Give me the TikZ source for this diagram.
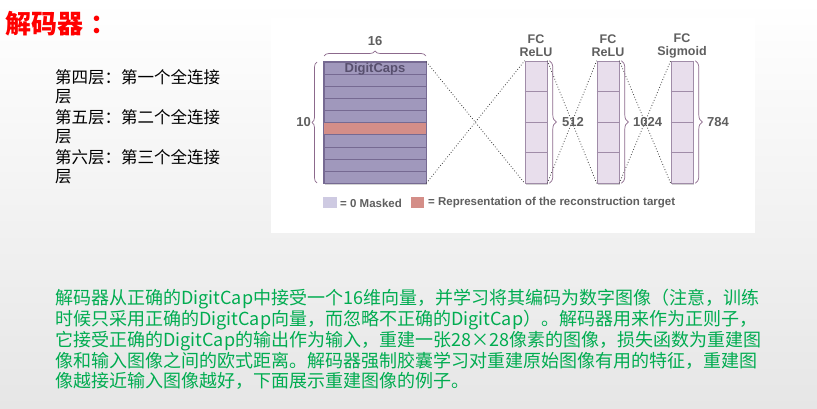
\documentclass[tikz,border=0pt]{standalone}
\usepackage{fontspec}
\setmainfont{Liberation Sans}
\newfontfamily\cjk{Noto Sans CJK SC}
\usetikzlibrary{calc,shadows,decorations.pathreplacing}
\XeTeXlinebreaklocale "zh"
\XeTeXlinebreakskip=0pt plus 3pt
\definecolor{capfill}{RGB}{160,152,188}
\definecolor{capline}{RGB}{118,106,146}
\definecolor{redrow}{RGB}{212,142,136}
\definecolor{fcfill}{RGB}{232,222,236}
\definecolor{fcline}{RGB}{160,140,168}
\definecolor{bracec}{RGB}{140,105,140}
\definecolor{lblgray}{RGB}{95,95,95}
\definecolor{maskfill}{RGB}{206,202,226}
\definecolor{slidegreen}{RGB}{0,172,80}
\definecolor{bgbottom}{RGB}{230,230,230}
\tikzset{
  capbox/.style={draw=capline,fill=capfill,line width=0.6pt,minimum width=102pt,minimum height=121pt,inner sep=0pt,
     drop shadow={shadow xshift=1pt,shadow yshift=-2.5pt,opacity=0.35}},
  fcbox/.style={draw=fcline,fill=fcfill,line width=0.6pt,minimum width=22pt,minimum height=122pt,inner sep=0pt,
     drop shadow={shadow xshift=1pt,shadow yshift=-2.5pt,opacity=0.35}},
  rowline/.style={draw=capline,line width=0.6pt},
  cellline/.style={draw=fcline,line width=0.6pt},
  conn/.style={draw=black!75,dotted,line width=0.8pt},
  bracestyle/.style={draw=bracec,line width=0.7pt,decorate},
  dimlbl/.style={font=\fontsize{13}{14}\selectfont\bfseries,text=lblgray,inner sep=1pt},
  fclbl/.style={font=\fontsize{12.5}{13}\selectfont\bfseries,text=lblgray,align=center,inner sep=0pt},
  legtext/.style={font=\fontsize{11.5}{12}\selectfont\bfseries,text=lblgray,anchor=west,inner sep=0pt},
  sidetext/.style={font=\cjk\fontsize{16.5}{20}\selectfont,text=black,anchor=west,inner sep=0pt},
  greentext/.style={font=\cjk\fontsize{18}{20}\selectfont,text=slidegreen,anchor=west,inner sep=0pt},
}
\begin{document}
\begin{tikzpicture}[x=1pt,y=-1pt]
\useasboundingbox (0,0) rectangle (817,409);
% slide background
\shade[top color=white,bottom color=bgbottom] (0,0) rectangle (817,409);
% white picture area
\fill[white] (271,18) rectangle (755,233);

% title
\node[font=\cjk\bfseries\fontsize{26}{28}\selectfont,text=red,anchor=west,inner sep=0pt] (title) at (5,24) {解码器\hspace{7pt}：};

% side text
\node[sidetext] (s1) at (55,77) {第四层：第一个全连接};
\node[sidetext] (s2) at (55,97) {层};
\node[sidetext] (s3) at (55,117) {第五层：第二个全连接};
\node[sidetext] (s4) at (55,137) {层};
\node[sidetext] (s5) at (55,157) {第六层：第三个全连接};
\node[sidetext] (s6) at (55,177) {层};

% DigitCaps block
\node[capbox] (dc) at (375,122.5) {};
\fill[redrow] ($(dc.north west)!0.5!(dc.south west)$) rectangle ($(dc.north east)!0.6!(dc.south east)$);
\foreach \i in {1,...,9}{
  \draw[rowline] ($(dc.north west)!\i/10!(dc.south west)$) -- ($(dc.north east)!\i/10!(dc.south east)$);
}
\draw[draw=capline,line width=0.6pt] (dc.north west) rectangle (dc.south east);
\node[font=\fontsize{13}{14}\selectfont\bfseries,text={rgb,255:red,88;green,80;blue,110},inner sep=0pt] (dclbl) at (375,69) {DigitCaps};

% braces of DigitCaps
\draw[bracestyle,decoration={brace,amplitude=5pt}] (317,183) -- (317,62);
\node[dimlbl,anchor=east] (ten) at (312,122) {10};
\draw[bracestyle,decoration={brace,amplitude=5pt}] (324,56) -- (426,56);
\node[dimlbl] (sixteen) at (375,41) {16};

% FC columns
\node[fcbox] (f1) at (536,122) {};
\node[fcbox] (f2) at (608,122) {};
\node[fcbox] (f3) at (682,122) {};
\foreach \n in {f1,f2,f3}{
  \foreach \i in {1,2,3}{
    \draw[cellline] ($(\n.north west)!\i/4!(\n.south west)$) -- ($(\n.north east)!\i/4!(\n.south east)$);
  }
}

% FC labels
\node[fclbl] (l1) at (536,46) {FC\\ReLU};
\node[fclbl] (l2) at (608,46) {FC\\ReLU};
\node[fclbl] (l3) at (682,46) {FC\\Sigmoid};

% dotted connections
\draw[conn] (dc.north east) -- (f1.south west);
\draw[conn] (dc.south east) -- (f1.north west);
\draw[conn] (f1.north east) -- (f2.south west);
\draw[conn] (f1.south east) -- (f2.north west);
\draw[conn] (f2.north east) -- (f3.south west);
\draw[conn] (f2.south east) -- (f3.north west);

% FC braces
\draw[bracestyle,decoration={brace,amplitude=7pt}] ($(f1.north east)+(2,0)$) -- ($(f1.south east)+(2,0)$);
\node[dimlbl,anchor=west] (n512) at (561,122) {512};
\draw[bracestyle,decoration={brace,amplitude=7pt}] ($(f2.north east)+(2,0)$) -- ($(f2.south east)+(2,0)$);
\node[dimlbl,anchor=west] (n1024) at (632,122) {1024};
\draw[bracestyle,decoration={brace,amplitude=7pt}] ($(f3.north east)+(2,0)$) -- ($(f3.south east)+(2,0)$);
\node[dimlbl,anchor=west] (n784) at (706,122) {784};

% legend
\fill[maskfill] (323,197) rectangle (337,208);
\node[legtext] (lg1) at (340,203) {= 0 Masked};
\fill[redrow] (411,197) rectangle (424,208);
\node[legtext] (lg2) at (428,203) {= Representation of the reconstruction target};

% green paragraph
\node[greentext] (g1) at (55,299) {\makebox[717pt][s]{解码器从正确的DigitCap中接受一个16维向量，并学习将其编码为数字图像（注意，训练}};
\node[greentext] (g2) at (55,320) {\makebox[717pt][s]{时候只采用正确的DigitCap向量，而忽略不正确的DigitCap）。解码器用来作为正则子，}};
\node[greentext] (g3) at (55,341) {\makebox[705pt][s]{它接受正确的DigitCap的输出作为输入，重建一张28×28像素的图像，损失函数为重建图}};
\node[greentext] (g4) at (55,361) {\makebox[717pt][s]{像和输入图像之间的欧式距离。解码器强制胶囊学习对重建原始图像有用的特征，重建图}};
\node[greentext] (g5) at (55,381) {像越接近输入图像越好，下面展示重建图像的例子。};
\end{tikzpicture}
\end{document}
